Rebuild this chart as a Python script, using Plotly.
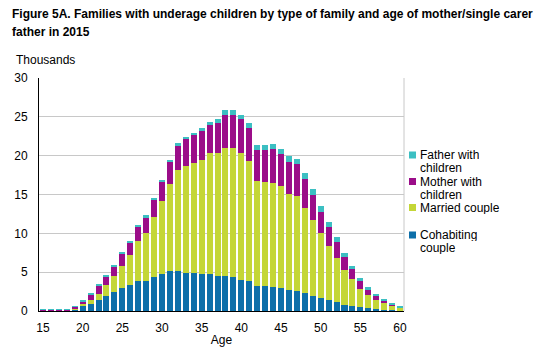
import plotly.graph_objects as go

ages = list(range(15, 61))
cohabiting = [0.02, 0.02, 0.03, 0.08, 0.25, 0.64, 0.9, 1.4, 1.93, 2.45, 2.97, 3.37, 3.85, 3.85, 4.35,
              4.75, 5.1, 5.1, 4.95, 4.87, 4.8, 4.74, 4.5, 4.5, 4.36, 3.97, 3.9, 3.2, 3.2, 3.08,
              2.95, 2.7, 2.56, 2.35, 1.92, 1.67, 1.41, 1.15, 0.8, 0.66, 0.5, 0.35, 0.22, 0.13, 0.08, 0.05]
married = [0.01, 0.01, 0.01, 0.03, 0.1, 0.26, 0.55, 0.8, 1.37, 2.05, 2.83, 3.83, 5.15, 6.15, 7.7,
           9.35, 11.2, 13.0, 13.75, 14.23, 14.7, 15.56, 15.9, 16.5, 16.64, 16.33, 15.4, 13.6, 13.4, 13.42,
           13.15, 12.4, 12.24, 10.95, 9.78, 8.33, 6.99, 5.65, 4.46, 3.44, 2.36, 1.65, 1.18, 0.87, 0.56, 0.38]
mother = [0.1, 0.12, 0.12, 0.12, 0.2, 0.38, 0.69, 1.1, 1.1, 1.2, 1.55, 1.65, 1.9, 2.1, 2.25,
          2.6, 2.9, 3.2, 3.4, 3.5, 3.7, 3.7, 3.8, 4.3, 4.3, 4.4, 4.2, 3.9, 4.1, 4.3,
          4.1, 4.1, 4.1, 3.7, 3.2, 2.8, 2.4, 2.05, 1.71, 1.3, 0.99, 0.8, 0.57, 0.37, 0.26, 0.07]
father = [0.01, 0.01, 0.01, 0.02, 0.05, 0.09, 0.16, 0.16, 0.2, 0.15, 0.15, 0.2, 0.2, 0.2, 0.2,
          0.2, 0.25, 0.3, 0.3, 0.3, 0.3, 0.3, 0.5, 0.55, 0.55, 0.6, 0.7, 0.7, 0.7, 0.7,
          0.7, 0.7, 0.7, 0.8, 0.8, 0.7, 0.65, 0.65, 0.53, 0.4, 0.38, 0.23, 0.23, 0.17, 0.13, 0.14]

series_names = ["Cohabiting couple", "Married couple", "Mother with children", "Father with children"]
legend_lines = [["Father with", "children"], ["Mother with", "children"], ["Married couple"], ["Cohabiting", "couple"]]
colors = ["#0d6fa9", "#c4d637", "#9b0d89", "#3cbfc2"]
title_lines = ["Figure 5A. Families with underage children by type of family and age of mother/single carer",
               "father in 2015"]

x_ticks = list(range(15, 61, 5))
y_ticks = [0, 5, 10, 15, 20, 25, 30]

FONT = "Liberation Sans, Arial, sans-serif"
W, H = 559, 351
L, R, T, B = 39, 155, 78, 40
PW, PH = W - L - R, H - T - B

def px_x(px):
    return (px - L) / PW

def px_y(py):
    return (H - B - py) / PH

fig = go.Figure()
for name, vals, col in zip(series_names, [cohabiting, married, mother, father], colors):
    fig.add_bar(x=ages, y=vals, name=name, marker_color=col, marker_line_width=0, showlegend=False)

fig.update_layout(
    barmode="stack",
    bargap=0.24,
    width=W, height=H,
    margin=dict(l=L, r=R, t=T, b=B, autoexpand=False),
    paper_bgcolor="white", plot_bgcolor="white",
    font=dict(family=FONT, size=12, color="#000"),
    xaxis=dict(
        range=[14.5, 60.5], tickvals=x_ticks, showgrid=False,
        showline=True, linecolor="#000", linewidth=1, ticks="",
        ticklabelstandoff=6, automargin=False,
        title=dict(text="Age", standoff=1, font=dict(size=12)),
        tickfont=dict(size=12),
    ),
    yaxis=dict(
        range=[0, 30], tickvals=y_ticks, showgrid=True, gridcolor="#c8c8c8",
        showline=True, linecolor="#000", linewidth=1, ticks="", zeroline=False,
        ticklabelstandoff=8, automargin=False,
        tickfont=dict(size=12),
    ),
    showlegend=False,
)

# title (two lines, bold)
for i, t in enumerate(title_lines):
    fig.add_annotation(text="<b>" + t + "</b>", xref="paper", yref="paper", x=px_x(10), y=px_y(14 + 18 * i),
                       xanchor="left", yanchor="middle", showarrow=False, font=dict(size=12))

fig.add_annotation(text="Thousands", xref="paper", yref="paper", x=px_x(14), y=px_y(60),
                   xanchor="left", yanchor="middle", showarrow=False, font=dict(size=12))
fig.add_shape(type="line", xref="paper", yref="paper", x0=1, x1=1, y0=0, y1=1,
              line=dict(color="#c8c8c8", width=1))

# manual legend (matches the compact original legend)
legend_rows = [155, 181.5, 207.5, 235]
for lines, col, y0 in zip(legend_lines, colors[::-1], legend_rows):
    fig.add_shape(type="rect", xref="paper", yref="paper",
                  x0=px_x(409), x1=px_x(416), y0=px_y(y0 - 3.5), y1=px_y(y0 + 3.5),
                  fillcolor=col, line_width=0)
    for i, t in enumerate(lines):
        fig.add_annotation(text=t, xref="paper", yref="paper", x=px_x(418.5), y=px_y(y0 + 13 * i),
                           xanchor="left", yanchor="middle", showarrow=False, height=12,
                           font=dict(size=12))

fig.write_html("out.html")
